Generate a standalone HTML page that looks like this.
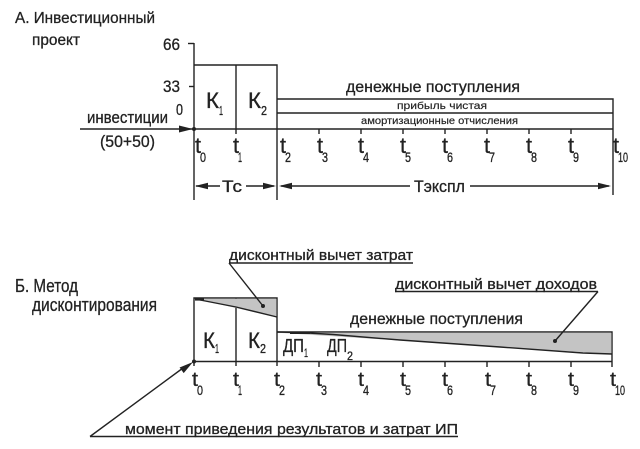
<!DOCTYPE html>
<html><head><meta charset="utf-8"><style>
html,body{margin:0;padding:0;background:#fff;}
svg{display:block;}
text{font-family:"Liberation Sans","DejaVu Sans",sans-serif;fill:#222;stroke:#222;stroke-width:0.3;}
.s{stroke-width:0.15;}
</style></head><body>
<svg width="640" height="449" viewBox="0 0 640 449" xmlns="http://www.w3.org/2000/svg">
<rect width="640" height="449" fill="#fff"/>
<g stroke="#222" stroke-width="1.4" fill="none">
<!-- A section -->
<path d="M194,43 V200"/>
<path d="M188,43.5 H194"/>
<path d="M189,86.5 H194"/>
<path d="M194,65 H277 V200"/>
<path d="M236,65 V134"/>
<path d="M277,99 H613 V195"/>
<path d="M277,113 H613"/>
<path d="M80,129 H613"/>
<path d="M319,129V134 M361,129V134 M403,129V134 M445,129V134 M487,129V134 M529,129V134 M571,129V134"/>
<path d="M196,186 H220 M246,186 H274"/>
<path d="M281,186 H410 M470,186 H609"/>
<!-- B section -->
<path d="M194,366 V298 H277 V366"/>
<path d="M236,298 V366"/>
<path d="M277,332 H612 V367"/>
<path d="M194,361.5 H612"/>
<path d="M319,361V367 M361,361V367 M403,361V367 M445,361V367 M487,361V367 M529,361V367 M571,361V367"/>
</g>
<!-- gray discount areas -->
<polygon points="195,298.7 276.3,298.7 276.3,317" fill="#c4c4c4"/>
<polygon points="278,332.7 611.3,332.7 611.3,354" fill="#c4c4c4"/>
<g stroke="#222" stroke-width="1.4" fill="none">
<path d="M195,299 L236,307 L277,317"/>
<path d="M277,332 L300,332.5 L333,334.5 L400,340 L500,347 L583,353 L612,354"/>
<path d="M195,299.5 H204" stroke-width="2.2"/>
<path d="M290,333 H310" stroke-width="2"/>
<!-- leaders -->
<path d="M229,263 H413"/>
<path d="M229,263 L263,306"/>
<path d="M395,291.5 H598"/>
<path d="M598,291.5 L555,341"/>
<path d="M90,436.5 H458"/>
<path d="M90,436.5 L183,368"/>
</g>
<!-- arrowheads and dots -->
<g fill="#222">
<polygon points="193,129 179,125.5 179,132.5"/>
<circle cx="194" cy="129" r="2"/>
<polygon points="195,186 208,182.8 208,189.2"/>
<polygon points="276,186 263,182.8 263,189.2"/>
<polygon points="279,186 292,182.8 292,189.2"/>
<polygon points="611,186 598,182.8 598,189.2"/>
<circle cx="194" cy="361.5" r="2"/>
<circle cx="263" cy="306" r="2"/>
<circle cx="555" cy="341" r="2"/>
<polygon points="193,362 183.7,373.1 179.6,367.5"/>
</g>
<!-- A texts -->
<text x="15" y="23" font-size="16" textLength="140" lengthAdjust="spacingAndGlyphs">А. Инвестиционный</text>
<text x="32" y="45" font-size="16" textLength="48" lengthAdjust="spacingAndGlyphs">проект</text>
<text x="163" y="50" font-size="17" textLength="17" lengthAdjust="spacingAndGlyphs">66</text>
<text x="163" y="92" font-size="17" textLength="17" lengthAdjust="spacingAndGlyphs">33</text>
<text x="176" y="115" font-size="16" textLength="7" lengthAdjust="spacingAndGlyphs">0</text>
<text x="87" y="123" font-size="17" textLength="81" lengthAdjust="spacingAndGlyphs">инвестиции</text>
<text x="100" y="147" font-size="17" textLength="55" lengthAdjust="spacingAndGlyphs">(50+50)</text>
<text x="206" y="108" font-size="22" textLength="13" lengthAdjust="spacingAndGlyphs">К</text>
<text x="219" y="115" font-size="13" textLength="4" lengthAdjust="spacingAndGlyphs">1</text>
<text x="248" y="108" font-size="22" textLength="13" lengthAdjust="spacingAndGlyphs">К</text>
<text x="261" y="115" font-size="13" textLength="6" lengthAdjust="spacingAndGlyphs">2</text>
<text x="346" y="92" font-size="16" textLength="174" lengthAdjust="spacingAndGlyphs">денежные поступления</text>
<text class="s" x="397" y="109" font-size="10" textLength="90" lengthAdjust="spacingAndGlyphs">прибыль чистая</text>
<text class="s" x="361" y="124" font-size="10" textLength="157" lengthAdjust="spacingAndGlyphs">амортизационные отчисления</text>
<text x="222" y="192" font-size="17" textLength="20" lengthAdjust="spacingAndGlyphs">Тс</text>
<text x="414" y="192" font-size="17" textLength="51" lengthAdjust="spacingAndGlyphs">Тэкспл</text>
<!-- A t labels -->
<g font-size="22">
<text x="195" y="153" textLength="6" lengthAdjust="spacingAndGlyphs">t</text>
<text x="233" y="153" textLength="6" lengthAdjust="spacingAndGlyphs">t</text>
<text x="280" y="153" textLength="6" lengthAdjust="spacingAndGlyphs">t</text>
<text x="317" y="153" textLength="6" lengthAdjust="spacingAndGlyphs">t</text>
<text x="358" y="153" textLength="6" lengthAdjust="spacingAndGlyphs">t</text>
<text x="400" y="153" textLength="6" lengthAdjust="spacingAndGlyphs">t</text>
<text x="442" y="153" textLength="6" lengthAdjust="spacingAndGlyphs">t</text>
<text x="484" y="153" textLength="6" lengthAdjust="spacingAndGlyphs">t</text>
<text x="526" y="153" textLength="6" lengthAdjust="spacingAndGlyphs">t</text>
<text x="568" y="153" textLength="6" lengthAdjust="spacingAndGlyphs">t</text>
<text x="613" y="153" textLength="6" lengthAdjust="spacingAndGlyphs">t</text>
</g>
<g font-size="14">
<text x="200" y="162" textLength="6" lengthAdjust="spacingAndGlyphs">0</text>
<text x="238" y="162" textLength="4" lengthAdjust="spacingAndGlyphs">1</text>
<text x="285" y="162" textLength="6" lengthAdjust="spacingAndGlyphs">2</text>
<text x="322" y="162" textLength="6" lengthAdjust="spacingAndGlyphs">3</text>
<text x="363" y="162" textLength="6" lengthAdjust="spacingAndGlyphs">4</text>
<text x="405" y="162" textLength="6" lengthAdjust="spacingAndGlyphs">5</text>
<text x="447" y="162" textLength="6" lengthAdjust="spacingAndGlyphs">6</text>
<text x="489" y="162" textLength="6" lengthAdjust="spacingAndGlyphs">7</text>
<text x="531" y="162" textLength="6" lengthAdjust="spacingAndGlyphs">8</text>
<text x="573" y="162" textLength="6" lengthAdjust="spacingAndGlyphs">9</text>
<text x="618" y="162" textLength="10" lengthAdjust="spacingAndGlyphs">10</text>
</g>
<!-- B texts -->
<text x="15" y="292" font-size="18" textLength="63" lengthAdjust="spacingAndGlyphs">Б. Метод</text>
<text x="32" y="311" font-size="18" textLength="125" lengthAdjust="spacingAndGlyphs">дисконтирования</text>
<text x="229" y="260" font-size="15" textLength="184" lengthAdjust="spacingAndGlyphs">дисконтный вычет затрат</text>
<text x="395" y="289" font-size="15" textLength="202" lengthAdjust="spacingAndGlyphs">дисконтный вычет доходов</text>
<text x="350" y="324" font-size="16" textLength="173" lengthAdjust="spacingAndGlyphs">денежные поступления</text>
<text x="203" y="348" font-size="22" textLength="12" lengthAdjust="spacingAndGlyphs">К</text>
<text x="215" y="353" font-size="13" textLength="4" lengthAdjust="spacingAndGlyphs">1</text>
<text x="248" y="348" font-size="22" textLength="12" lengthAdjust="spacingAndGlyphs">К</text>
<text x="260" y="353" font-size="13" textLength="6" lengthAdjust="spacingAndGlyphs">2</text>
<text x="283" y="352" font-size="18" textLength="21" lengthAdjust="spacingAndGlyphs">ДП</text>
<text x="304" y="357" font-size="12" textLength="4" lengthAdjust="spacingAndGlyphs">1</text>
<text x="327" y="352" font-size="18" textLength="20" lengthAdjust="spacingAndGlyphs">ДП</text>
<text x="347" y="360" font-size="12" textLength="6" lengthAdjust="spacingAndGlyphs">2</text>
<text x="125" y="434" font-size="15" textLength="333" lengthAdjust="spacingAndGlyphs">момент приведения результатов и затрат ИП</text>
<!-- B t labels -->
<g font-size="20">
<text x="192" y="386" textLength="6" lengthAdjust="spacingAndGlyphs">t</text>
<text x="233" y="386" textLength="6" lengthAdjust="spacingAndGlyphs">t</text>
<text x="274" y="386" textLength="6" lengthAdjust="spacingAndGlyphs">t</text>
<text x="316" y="386" textLength="6" lengthAdjust="spacingAndGlyphs">t</text>
<text x="358" y="386" textLength="6" lengthAdjust="spacingAndGlyphs">t</text>
<text x="400" y="386" textLength="6" lengthAdjust="spacingAndGlyphs">t</text>
<text x="442" y="386" textLength="6" lengthAdjust="spacingAndGlyphs">t</text>
<text x="485" y="386" textLength="6" lengthAdjust="spacingAndGlyphs">t</text>
<text x="526" y="386" textLength="6" lengthAdjust="spacingAndGlyphs">t</text>
<text x="568" y="386" textLength="6" lengthAdjust="spacingAndGlyphs">t</text>
<text x="610" y="386" textLength="6" lengthAdjust="spacingAndGlyphs">t</text>
</g>
<g font-size="14">
<text x="197" y="395" textLength="6" lengthAdjust="spacingAndGlyphs">0</text>
<text x="238" y="395" textLength="4" lengthAdjust="spacingAndGlyphs">1</text>
<text x="279" y="395" textLength="6" lengthAdjust="spacingAndGlyphs">2</text>
<text x="321" y="395" textLength="6" lengthAdjust="spacingAndGlyphs">3</text>
<text x="363" y="395" textLength="6" lengthAdjust="spacingAndGlyphs">4</text>
<text x="405" y="395" textLength="6" lengthAdjust="spacingAndGlyphs">5</text>
<text x="447" y="395" textLength="6" lengthAdjust="spacingAndGlyphs">6</text>
<text x="490" y="395" textLength="6" lengthAdjust="spacingAndGlyphs">7</text>
<text x="531" y="395" textLength="6" lengthAdjust="spacingAndGlyphs">8</text>
<text x="573" y="395" textLength="6" lengthAdjust="spacingAndGlyphs">9</text>
<text x="615" y="395" textLength="10" lengthAdjust="spacingAndGlyphs">10</text>
</g>
</svg>
</body></html>
